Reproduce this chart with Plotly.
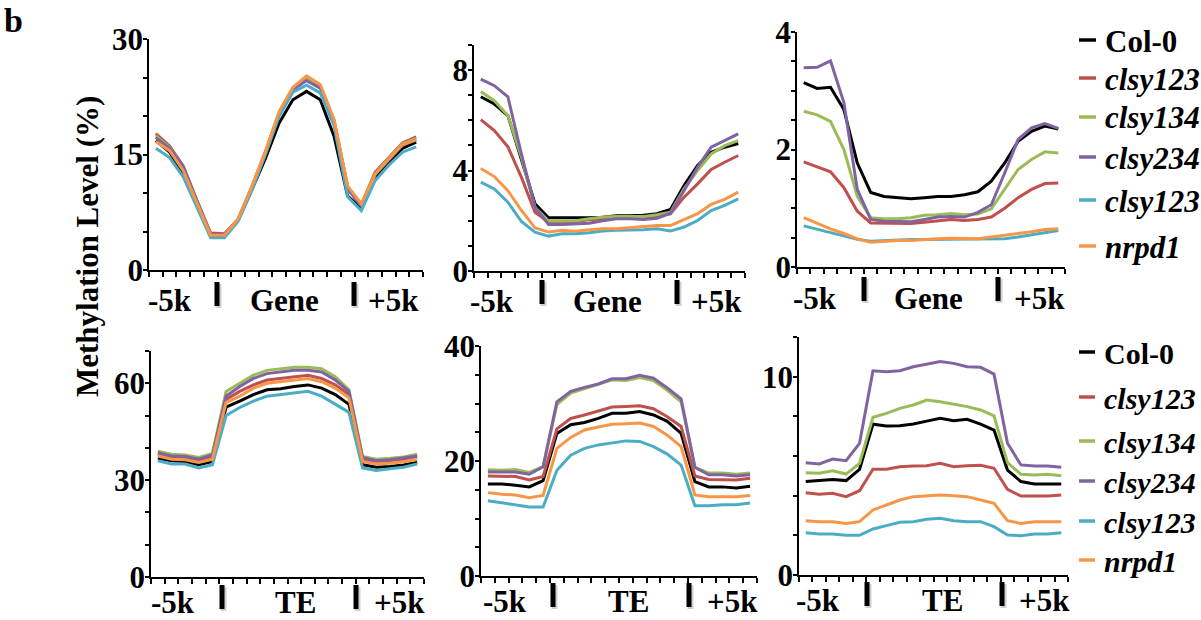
import plotly.graph_objects as go

W, H = 1201, 620
FONT = "Liberation Serif, Times New Roman, serif"

series_names = ["Col-0", "clsy123", "clsy134", "clsy234", "clsy123", "nrpd1"]
series_italic = [False, True, True, True, True, True]
series_colors = ["#000000", "#c0504d", "#9bbb59", "#8064a2", "#4bacc6", "#f79646"]

bins = list(range(20))  # 5 upstream, 10 body, 5 downstream bins

# Panel 1: Gene, CG
gene_cg = [
    [16.8, 15.3, 12.5, 8.6, 4.5, 4.4, 6.5, 10.4, 14.5, 19.1, 22.1, 23.2, 22.1, 17.4, 9.6, 8.0, 12.0, 14.0, 15.8, 16.6],
    [17.7, 16.1, 13.5, 9.0, 4.8, 4.7, 6.6, 10.8, 15.4, 20.4, 23.5, 24.8, 23.8, 19.4, 10.8, 8.5, 12.7, 14.6, 16.5, 17.3],
    [17.4, 15.9, 13.3, 8.9, 4.6, 4.6, 6.5, 10.7, 15.3, 20.3, 23.6, 25.0, 23.9, 19.5, 10.8, 8.4, 12.5, 14.5, 16.4, 17.1],
    [17.2, 15.8, 13.4, 8.9, 4.6, 4.6, 6.5, 10.6, 15.2, 20.2, 23.4, 24.6, 23.6, 19.3, 10.5, 8.3, 12.4, 14.3, 16.2, 16.9],
    [15.8, 14.6, 12.1, 8.2, 4.2, 4.2, 6.3, 10.3, 15.0, 20.0, 23.1, 24.0, 23.0, 18.8, 9.5, 7.7, 11.6, 13.6, 15.3, 16.0],
    [16.7, 15.5, 12.9, 8.6, 4.5, 4.5, 6.6, 10.8, 15.4, 20.6, 23.7, 25.2, 24.1, 19.6, 10.9, 8.6, 12.4, 14.4, 16.3, 16.9],
]
# Panel 2: Gene, CHG
gene_chg = [
    [6.94, 6.65, 6.19, 4.40, 2.68, 2.12, 2.12, 2.10, 2.12, 2.14, 2.20, 2.20, 2.22, 2.28, 2.45, 3.40, 4.20, 4.73, 4.93, 5.08],
    [6.03, 5.59, 4.95, 3.73, 2.34, 1.95, 1.95, 1.97, 2.04, 2.08, 2.12, 2.12, 2.15, 2.19, 2.28, 2.94, 3.47, 4.04, 4.33, 4.60],
    [7.15, 6.78, 6.19, 4.53, 2.54, 1.99, 1.99, 2.00, 2.08, 2.15, 2.17, 2.17, 2.17, 2.24, 2.34, 3.27, 4.00, 4.66, 4.99, 5.19],
    [7.64, 7.38, 6.94, 4.66, 2.54, 1.85, 1.85, 1.88, 1.90, 2.00, 2.08, 2.08, 2.05, 2.10, 2.30, 3.20, 4.13, 4.93, 5.19, 5.46],
    [3.54, 3.27, 2.74, 1.97, 1.55, 1.39, 1.48, 1.48, 1.52, 1.59, 1.62, 1.62, 1.64, 1.68, 1.59, 1.75, 2.01, 2.41, 2.61, 2.87],
    [4.08, 3.76, 3.20, 2.41, 1.72, 1.55, 1.62, 1.58, 1.64, 1.68, 1.68, 1.72, 1.75, 1.81, 1.81, 2.04, 2.28, 2.65, 2.85, 3.14],
]
# Panel 3: Gene, CHH
gene_chh = [
    [3.14, 3.04, 3.06, 2.68, 1.77, 1.27, 1.20, 1.18, 1.16, 1.18, 1.20, 1.20, 1.23, 1.28, 1.46, 1.77, 2.14, 2.31, 2.40, 2.35],
    [1.79, 1.70, 1.62, 1.35, 0.95, 0.75, 0.75, 0.75, 0.74, 0.76, 0.78, 0.81, 0.79, 0.81, 0.85, 1.00, 1.18, 1.32, 1.42, 1.43],
    [2.65, 2.59, 2.48, 2.00, 1.20, 0.84, 0.82, 0.82, 0.84, 0.88, 0.89, 0.91, 0.89, 0.90, 0.99, 1.32, 1.66, 1.83, 1.96, 1.94],
    [3.39, 3.40, 3.51, 2.80, 1.32, 0.81, 0.78, 0.77, 0.77, 0.81, 0.85, 0.86, 0.85, 0.93, 1.06, 1.60, 2.17, 2.37, 2.44, 2.36],
    [0.70, 0.64, 0.58, 0.52, 0.47, 0.44, 0.45, 0.47, 0.47, 0.47, 0.47, 0.47, 0.47, 0.47, 0.47, 0.48, 0.51, 0.55, 0.59, 0.62],
    [0.84, 0.74, 0.65, 0.57, 0.48, 0.42, 0.44, 0.45, 0.45, 0.47, 0.48, 0.49, 0.48, 0.48, 0.51, 0.54, 0.56, 0.60, 0.64, 0.65],
]
# Panel 4: TE, CG
te_cg = [
    [36.8, 36.0, 35.8, 34.8, 35.8, 52.6, 54.5, 56.5, 58.0, 58.3, 59.0, 59.5, 58.5, 56.5, 53.5, 34.8, 34.0, 34.2, 34.7, 35.5],
    [38.0, 37.0, 36.8, 36.0, 37.2, 55.0, 57.5, 59.5, 61.0, 61.5, 62.0, 62.5, 61.5, 59.5, 56.5, 36.5, 35.8, 36.0, 36.5, 37.3],
    [39.0, 38.0, 37.8, 37.0, 38.3, 57.5, 60.0, 62.5, 64.0, 64.5, 65.0, 65.0, 64.5, 62.0, 58.0, 37.3, 36.5, 36.8, 37.2, 38.0],
    [38.5, 37.5, 37.3, 36.5, 37.8, 56.0, 59.0, 61.5, 63.0, 63.5, 64.0, 64.0, 63.5, 61.0, 57.5, 37.0, 36.0, 36.3, 36.8, 37.5],
    [36.0, 35.0, 35.0, 33.8, 34.8, 50.0, 52.5, 54.5, 56.0, 56.5, 57.0, 57.5, 56.0, 53.5, 51.0, 33.8, 33.0, 33.5, 34.0, 35.0],
    [37.5, 36.5, 36.3, 35.5, 36.5, 54.0, 56.0, 58.5, 60.0, 60.5, 61.2, 61.5, 60.5, 58.5, 55.5, 35.8, 35.0, 35.2, 35.7, 36.5],
]
# Panel 5: TE, CHG
te_chg = [
    [16.0, 16.0, 15.8, 15.5, 16.6, 24.8, 26.3, 26.7, 27.4, 28.3, 28.3, 28.6, 28.0, 26.9, 24.8, 16.4, 15.5, 15.5, 15.3, 15.6],
    [17.4, 17.3, 17.3, 16.7, 17.3, 25.6, 27.4, 28.0, 28.7, 29.4, 29.5, 29.6, 29.1, 27.7, 26.0, 17.4, 16.8, 16.7, 16.7, 17.0],
    [18.5, 18.4, 18.5, 18.0, 19.0, 29.8, 31.8, 32.6, 33.3, 34.1, 34.0, 34.5, 34.0, 32.3, 30.3, 18.9, 17.9, 17.9, 17.7, 17.9],
    [18.1, 18.1, 18.1, 17.7, 19.0, 30.3, 32.1, 32.8, 33.4, 34.3, 34.3, 34.9, 34.4, 32.7, 30.8, 18.9, 17.6, 17.6, 17.4, 17.6],
    [13.1, 12.7, 12.4, 12.0, 12.0, 18.4, 21.0, 22.2, 22.8, 23.2, 23.5, 23.4, 22.5, 21.2, 19.3, 12.2, 12.2, 12.4, 12.4, 12.7],
    [14.5, 14.2, 14.1, 13.6, 14.0, 22.2, 24.1, 25.4, 25.9, 26.4, 26.5, 26.6, 26.0, 24.5, 22.5, 14.1, 13.8, 13.8, 13.8, 14.0],
]
# Panel 6: TE, CHH
te_chh = [
    [4.71, 4.76, 4.82, 4.76, 5.33, 7.60, 7.51, 7.53, 7.61, 7.76, 7.90, 7.78, 7.85, 7.61, 7.31, 5.29, 4.71, 4.59, 4.59, 4.59],
    [4.15, 4.07, 4.12, 3.95, 4.25, 5.33, 5.33, 5.46, 5.50, 5.51, 5.63, 5.46, 5.51, 5.53, 5.38, 4.32, 3.98, 3.98, 3.98, 4.03],
    [5.16, 5.13, 5.26, 5.09, 5.63, 7.95, 8.15, 8.40, 8.57, 8.82, 8.74, 8.62, 8.49, 8.32, 8.02, 5.66, 5.08, 5.04, 5.08, 5.01],
    [5.66, 5.60, 5.85, 5.76, 6.64, 10.30, 10.25, 10.30, 10.50, 10.62, 10.76, 10.67, 10.50, 10.47, 10.13, 6.64, 5.55, 5.50, 5.50, 5.43],
    [2.13, 2.07, 2.07, 2.00, 2.00, 2.32, 2.49, 2.66, 2.69, 2.81, 2.86, 2.74, 2.69, 2.69, 2.44, 2.02, 1.98, 2.07, 2.07, 2.13],
    [2.74, 2.69, 2.69, 2.60, 2.69, 3.28, 3.53, 3.78, 3.95, 3.98, 4.03, 4.00, 3.95, 3.78, 3.61, 2.74, 2.60, 2.69, 2.69, 2.69],
]

region_labels = ["Gene", "Gene", "Gene", "TE", "TE", "TE"]
y_max = [30, 9, 4, 70, 40, 12]
y_dtick = [5, 1, 0.5, 10, 5, 2]
y_labels = [[0, 15, 30], [0, 4, 8], [0, 2, 4], [0, 30, 60], [0, 20, 40], [0, 10]]
panel_data = [gene_cg, gene_chg, gene_chh, te_cg, te_chg, te_chh]

# Layout geometry (pixels): x0, x1, ytop, ybottom
boxes = [
    (149, 423, 39, 270),
    (474, 745, 45, 271),
    (797, 1065, 32, 267),
    (151, 424, 351, 577),
    (481, 757, 346, 576),
    (799, 1068, 337, 575),
]
label_x = [
    (170, 284, 393), (492, 607, 716), (815, 929, 1039),
    (173, 295, 399), (505, 628, 732), (818, 942, 1044),
]
mark_x = [(217, 354), (542, 677), (864, 998), (222, 356), (553, 689), (867, 1002)]
label_y = [298, 299, 296, 600, 599, 598]
mark_y = [(282, 306), (280, 304), (277, 301), (585, 609), (583, 607), (582, 606)]


def px(x):
    return x / W


def py(y):
    return 1 - y / H


fig = go.Figure()
shapes = []
annotations = []

for p in range(6):
    x0, x1, yt, yb = boxes[p]
    ax = "" if p == 0 else str(p + 1)
    xa, ya = "x" + ax, "y" + ax
    for s in range(6):
        fig.add_trace(go.Scatter(
            x=[b + 0.5 for b in bins], y=panel_data[p][s], mode="lines",
            line=dict(color=series_colors[s], width=3),
            xaxis=xa, yaxis=ya, showlegend=False, hoverinfo="skip",
        ))
    n = int(round(y_max[p] / y_dtick[p]))
    tv = [round(i * y_dtick[p], 3) for i in range(n + 1)]
    tt = [("%g" % v) if any(abs(v - l) < 1e-9 for l in y_labels[p]) else "" for v in tv]
    fig.layout["xaxis" + ax] = dict(
        domain=[px(x0), px(x1)], anchor=ya, range=[0, 20], automargin=False,
        tickmode="array", tickvals=list(range(21)), showticklabels=False,
        ticks="outside", ticklen=5, tickwidth=1.5, tickcolor="black",
        showline=True, linecolor="black", linewidth=1.5,
        showgrid=False, zeroline=False, fixedrange=True,
    )
    fig.layout["yaxis" + ax] = dict(
        domain=[py(yb), py(yt)], anchor=xa, range=[0, y_max[p]], automargin=False,
        tickmode="array", tickvals=tv, ticktext=tt,
        ticks="outside", ticklen=4, tickwidth=1.5, tickcolor="black",
        ticklabelstandoff=-6,
        tickfont=dict(family=FONT, size=31, color="black", weight="bold"),
        showline=True, linecolor="black", linewidth=1.5,
        showgrid=False, zeroline=False, fixedrange=True,
    )
    for txt, lx in zip(["-5k", region_labels[p], "+5k"], label_x[p]):
        annotations.append(dict(
            text="<b>%s</b>" % txt, x=px(lx), y=py(label_y[p] + 2), xref="paper", yref="paper",
            xanchor="center", yanchor="middle", showarrow=False,
            font=dict(family=FONT, size=31, color="black"),
        ))
    for mx in mark_x[p]:
        shapes.append(dict(
            type="line", xref="paper", yref="paper",
            x0=px(mx + 1.5), x1=px(mx + 1.5), y0=py(mark_y[p][0] + 2), y1=py(mark_y[p][1] + 2),
            line=dict(color="#d0d0d0", width=6), layer="below",
        ))
        shapes.append(dict(
            type="line", xref="paper", yref="paper",
            x0=px(mx), x1=px(mx), y0=py(mark_y[p][0]), y1=py(mark_y[p][1]),
            line=dict(color="black", width=5),
        ))

legend_y = [[40, 78, 117, 157, 200, 246], [352, 397, 441, 481, 521, 560]]
legend_x = [(1079, 1096, 1103), (1079, 1095, 1102)]
legend_font = [31, 30]
for r in range(2):
    sx0, sx1, tx = legend_x[r]
    for s in range(6):
        yy = legend_y[r][s]
        shapes.append(dict(
            type="line", xref="paper", yref="paper",
            x0=px(sx0), x1=px(sx1), y0=py(yy), y1=py(yy),
            line=dict(color=series_colors[s], width=3.5),
        ))
        label = series_names[s]
        label = "<b><i>%s</i></b>" % label if series_italic[s] else "<b>%s</b>" % label
        annotations.append(dict(
            text=label, x=px(tx), y=py(yy + 1), xref="paper", yref="paper",
            xanchor="left", yanchor="middle", showarrow=False,
            font=dict(family=FONT, size=legend_font[r], color="black"),
        ))

annotations.append(dict(
    text="<b>Methylation Level (%)</b>", x=px(87), y=py(247), xref="paper", yref="paper",
    xanchor="center", yanchor="middle", textangle=-90, showarrow=False,
    font=dict(family=FONT, size=31, color="black"),
))
annotations.append(dict(
    text="<b>b</b>", x=px(2), y=1, xref="paper", yref="paper",
    xanchor="left", yanchor="top", showarrow=False,
    font=dict(family=FONT, size=34, color="black"),
))

fig.update_layout(
    width=W, height=H, margin=dict(l=0, r=0, t=0, b=0, autoexpand=False),
    paper_bgcolor="white", plot_bgcolor="white",
    shapes=shapes, annotations=annotations, showlegend=False,
)

fig.write_html("out.html", config={"displayModeBar": False})
